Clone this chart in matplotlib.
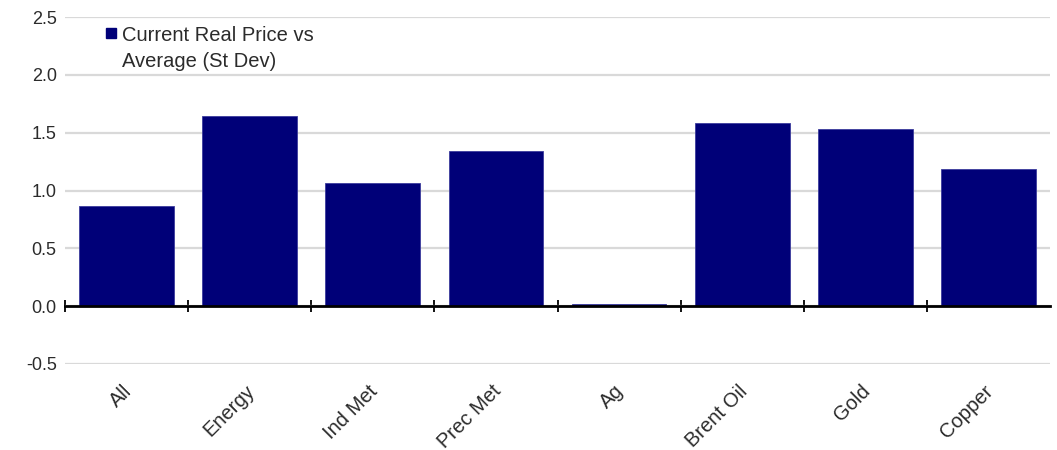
import matplotlib
matplotlib.use("Agg")
import matplotlib.pyplot as plt
from matplotlib.patches import Patch, Rectangle
from matplotlib.legend_handler import HandlerPatch
import matplotlib.transforms as mtransforms
import numpy as np

plt.rcParams['font.family'] = ['Liberation Sans', 'DejaVu Sans']

categories = ["All", "Energy", "Ind Met", "Prec Met", "Ag", "Brent Oil", "Gold", "Copper"]
values = [0.865, 1.643, 1.066, 1.345, 0.02, 1.586, 1.531, 1.19]
series_name = "Current Real Price vs\nAverage (St Dev)"
yticks = [-0.5, 0.0, 0.5, 1.0, 1.5, 2.0, 2.5]

bar_color = "#000078"
text_color = "#2b2b2b"

fig = plt.figure(figsize=(10.57, 4.5), dpi=100)
ax = fig.add_axes([65/1057, 86/450, 985/1057, 347/450])

x = np.arange(len(categories))
ax.bar(x, values, width=0.77, color=bar_color, edgecolor="#3c3c9c", linewidth=0.6, zorder=3)

ax.set_xlim(-0.5, len(categories) - 0.5)
ax.set_ylim(-0.5, 2.5)
ax.set_yticks(yticks)
ax.set_yticklabels([f"{v:.1f}" for v in yticks])
ax.yaxis.grid(True, color="#d9d9d9", linewidth=1.6, zorder=0)
ax.set_axisbelow(True)

for s in ["left", "right", "top"]:
    ax.spines[s].set_visible(False)
ax.spines["bottom"].set_position(("data", 0))
ax.spines["bottom"].set_color("black")
ax.spines["bottom"].set_linewidth(2.0)
ax.spines["bottom"].set_zorder(4)

ax.set_xticks(x)
ax.set_xticklabels(categories, rotation=45, ha="right", va="center", rotation_mode="anchor")
ax.set_xticks(np.arange(len(categories)) - 0.5, minor=True)
ax.tick_params(axis="x", which="major", length=0, pad=59, labelsize=14.5, labelcolor=text_color)
ax.tick_params(axis="x", which="minor", length=8.5, width=1.3, direction="inout", color="black")
ax.tick_params(axis="y", length=0, pad=6, labelsize=13, labelcolor=text_color)

# shift x tick labels slightly right
offset = mtransforms.ScaledTranslation(2/100, 0, fig.dpi_scale_trans)
for lbl in ax.get_xticklabels():
    lbl.set_transform(lbl.get_transform() + offset)


def square_top(legend, orig_handle, xdescent, ydescent, width, height, fontsize):
    s = 7.0
    return Rectangle((-xdescent + width - s, -ydescent + 12.6), s, s)


handles = [Patch(facecolor=bar_color, edgecolor=bar_color)]
leg = ax.legend(handles, [series_name], loc="upper left", bbox_to_anchor=(0.026, 1.012),
                frameon=False, fontsize=14.5, handlelength=0.6, handleheight=0.6,
                handletextpad=0.3, borderpad=0.15, labelcolor=text_color,
                handler_map={Patch: HandlerPatch(patch_func=square_top)})
for t in leg.get_texts():
    t.set_linespacing(1.45)

fig.savefig("out.png", dpi=100)
